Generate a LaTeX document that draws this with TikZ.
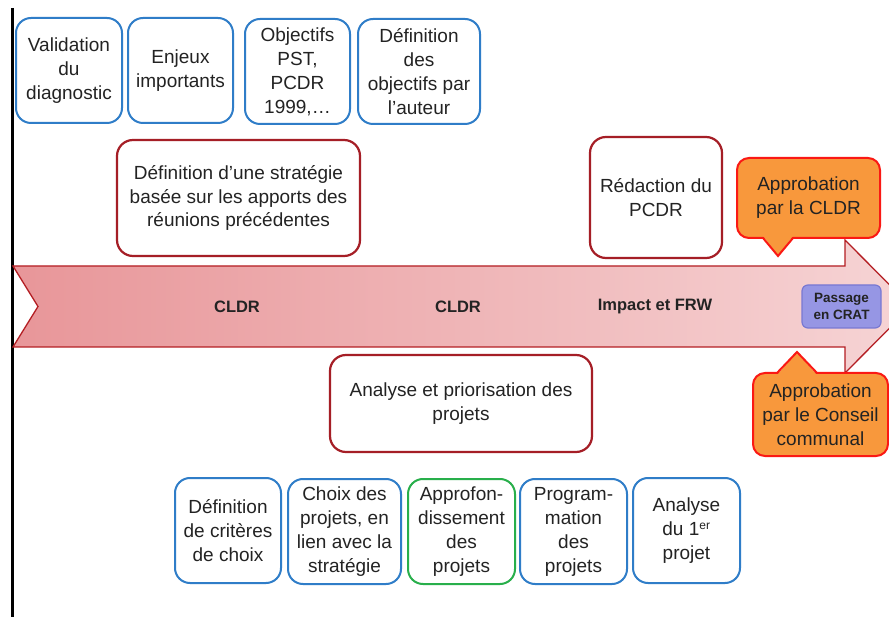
\documentclass[tikz,border=0pt]{standalone}
\usepackage{fontspec}
\setmainfont{Liberation Sans}
\definecolor{blueB}{RGB}{47,125,200}
\definecolor{greenB}{RGB}{40,175,75}
\definecolor{redB}{RGB}{165,30,38}
\definecolor{orangeF}{RGB}{248,152,60}
\definecolor{orangeB}{RGB}{250,25,20}
\definecolor{passF}{RGB}{150,150,228}
\definecolor{passB}{RGB}{120,120,210}
\definecolor{arrL}{RGB}{232,150,153}
\definecolor{arrR}{RGB}{246,212,213}
\definecolor{arrB}{RGB}{180,30,35}
\definecolor{txt}{RGB}{35,35,35}
\tikzset{
  boxtext/.style={align=center, text=txt, inner sep=0pt, font=\fontsize{19}{24}\selectfont},
  bluebox/.style={boxtext, draw=blueB, line width=2pt, rounded corners=15pt, fill=white},
  greenbox/.style={boxtext, draw=greenB, line width=2pt, rounded corners=15pt, fill=white},
  redbox/.style={boxtext, draw=redB, line width=2.2pt, rounded corners=16pt, fill=white, font=\fontsize{19}{23.5}\selectfont},
  callbox/.style={boxtext, draw=orangeB, line width=2pt, rounded corners=12pt, fill=orangeF},
  arrlabel/.style={text=txt, font=\fontsize{16.5}{18}\selectfont\bfseries, inner sep=0pt},
  passbox/.style={align=center, text=txt, draw=passB, fill=passF, line width=1.2pt, rounded corners=6pt, inner sep=0pt, font=\fontsize{13.5}{17}\selectfont\bfseries}
}
\begin{document}
\begin{tikzpicture}[x=1pt,y=-1pt]
\useasboundingbox (0,0) rectangle (889,617);
\clip (0,0) rectangle (889,617);
\fill[white] (0,0) rectangle (889,617);

% left black rule
\draw[line width=3pt, black] (12.5,8) -- (12.5,617);

% main arrow
\shadedraw[left color=arrL, right color=arrR, draw=arrB, line width=1.3pt, line join=miter]
  (13,266) -- (845,266) -- (845,240) -- (911,306.5) -- (845,373) -- (845,347) -- (13,347) -- (38,306.5) -- cycle;

\node[arrlabel] (l1) at (237,307) {CLDR};
\node[arrlabel] (l2) at (458,307) {CLDR};
\node[arrlabel] (l3) at (655,307) {Impact et FRW};

\node[passbox, minimum width=79pt, minimum height=43pt] (pass) at (841.5,306.5) {Passage\\en CRAT};

% top blue boxes
\node[bluebox, minimum width=106pt, minimum height=105pt] (v1) at (69,70.5) {Validation\\du\\diagnostic};
\node[bluebox, minimum width=105pt, minimum height=105pt] (v2) at (180.5,70.5) {Enjeux\\importants};
\node[bluebox, minimum width=105pt, minimum height=105pt] (v3) at (297.5,71.5) {Objectifs\\PST,\\PCDR\\1999,…};
\node[bluebox, minimum width=122pt, minimum height=105pt] (v4) at (419,71.5) {Définition\\des\\objectifs par\\l’auteur};

% red boxes
\node[redbox, minimum width=243pt, minimum height=116pt] (strat) at (238.5,198) {Définition d’une stratégie\\basée sur les apports des\\réunions précédentes};
\node[redbox, minimum width=132pt, minimum height=121pt] (redac) at (656,197.5) {Rédaction du\\PCDR};
\node[redbox, minimum width=262pt, minimum height=97pt] (prio) at (461,403.5) {Analyse et priorisation des\\projets};

% bottom boxes
\node[bluebox, minimum width=106pt, minimum height=105pt] (b1) at (228,530.5) {Définition\\de critères\\de choix};
\node[bluebox, minimum width=113pt, minimum height=105pt] (b2) at (344.5,531.5) {Choix des\\projets, en\\lien avec la\\stratégie};
\node[greenbox, minimum width=107pt, minimum height=105pt] (b3) at (461.5,531.5) {Approfon-\\dissement\\des\\projets};
\node[bluebox, minimum width=107pt, minimum height=105pt] (b4) at (573.5,531.5) {Program-\\mation\\des\\projets};
\node[bluebox, minimum width=107pt, minimum height=105pt] (b5) at (686.5,530.5) {Analyse\\du 1\textsuperscript{\fontsize{12}{12}\selectfont er}\\projet};

% callouts
\node[callbox, minimum width=143pt, minimum height=80pt] (cldr) at (808.5,198) {Approbation\\par la CLDR};
\fill[orangeF] (763,236) -- (778,256) -- (793,236) -- cycle;
\draw[orangeB, line width=2pt, line join=miter] (763,238) -- (778,256) -- (793,238);

\node[callbox, minimum width=135pt, minimum height=83pt] (cons) at (820.5,414.5) {Approbation\\par le Conseil\\communal};
\fill[orangeF] (777,375) -- (797,352) -- (817,375) -- cycle;
\draw[orangeB, line width=2pt, line join=miter] (777,373) -- (797,352) -- (817,373);
\end{tikzpicture}
\end{document}
